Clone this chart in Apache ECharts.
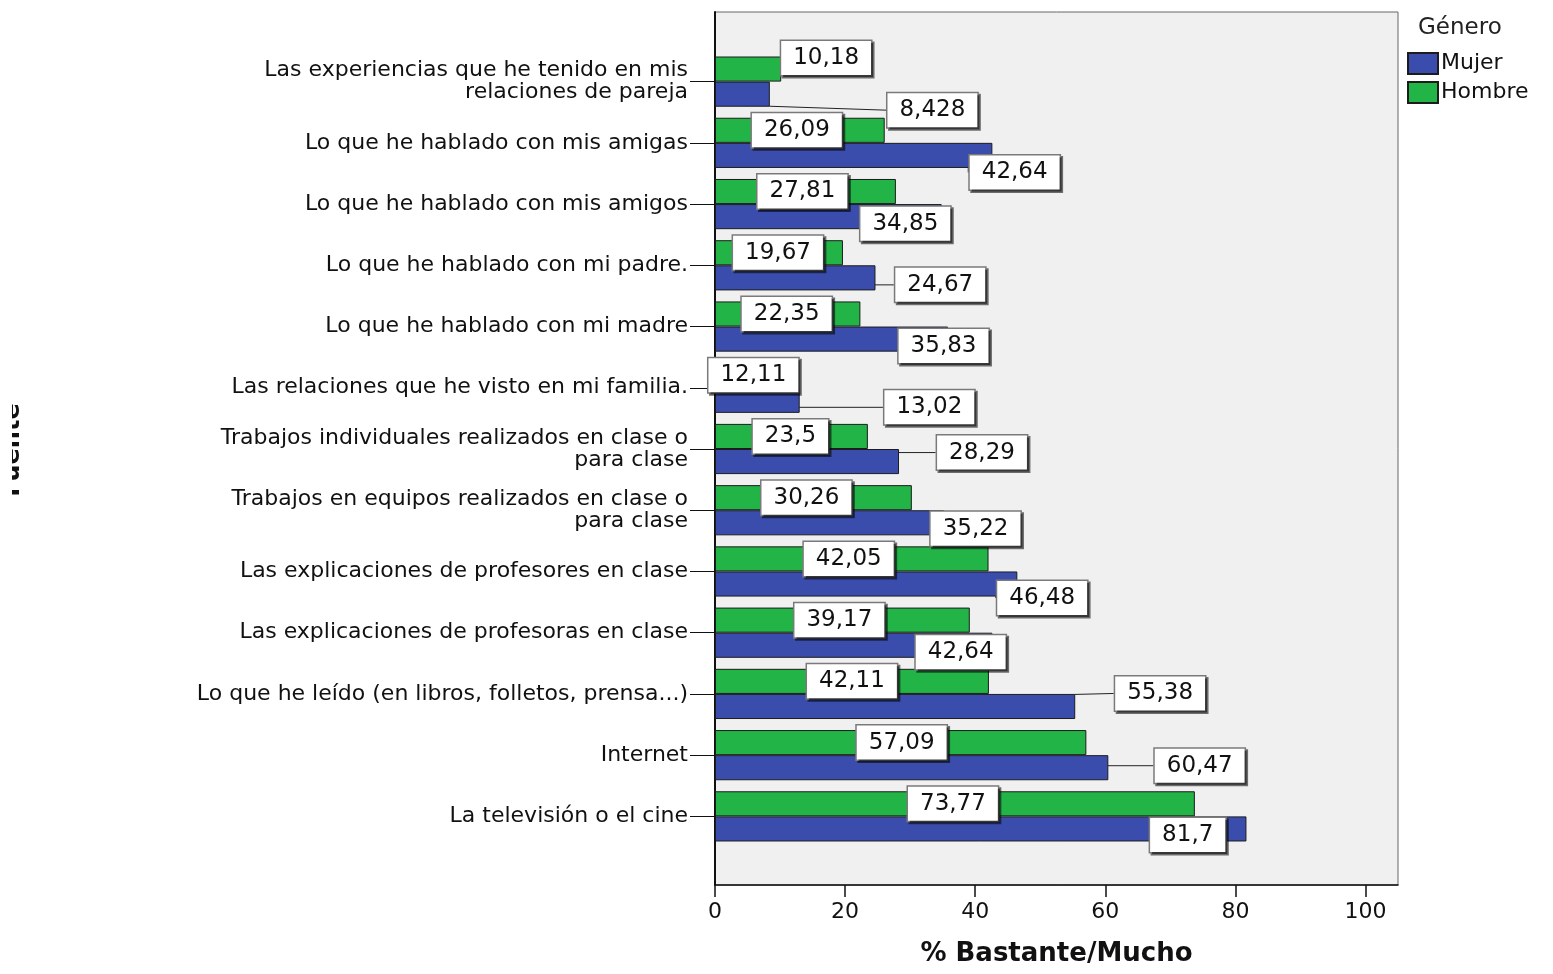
<!DOCTYPE html>
<html>
<head>
<meta charset="utf-8">
<script src="https://cdn.jsdelivr.net/npm/echarts@6/dist/echarts.min.js"></script>
<style>
  html, body { margin: 0; padding: 0; background: #fff; }
  #main { width: 1553px; height: 974px; }
</style>
</head>
<body>
<div id="main"></div>
<script>
// fuentes de información, de arriba a abajo
var categories = [
    'Las experiencias que he tenido en mis\nrelaciones de pareja',
    'Lo que he hablado con mis amigas',
    'Lo que he hablado con mis amigos',
    'Lo que he hablado con mi padre.',
    'Lo que he hablado con mi madre',
    'Las relaciones que he visto en mi familia.',
    'Trabajos individuales realizados en clase o\npara clase',
    'Trabajos en equipos realizados en clase o\npara clase',
    'Las explicaciones de profesores en clase',
    'Las explicaciones de profesoras en clase',
    'Lo que he leído (en libros, folletos, prensa...)',
    'Internet',
    'La televisión o el cine'
];
var hombreValues = [10.18, 26.09, 27.81, 19.67, 22.35, 12.11, 23.5, 30.26, 42.05, 39.17, 42.11, 57.09, 73.77];
var mujerValues = [8.428, 42.64, 34.85, 24.67, 35.83, 13.02, 28.29, 35.22, 46.48, 42.64, 55.38, 60.47, 81.7];
var xTicks = [0, 20, 40, 60, 80, 100];

// desplazamiento de las etiquetas (estilo SPSS), en px
var hombreLabelShift = [[78, -11], [-3, 0], [-3, 0], [-1, 0], [-1, 0], [-1, 0], [-1, 0], [-7, 0], [-3, 0], [-3, 0], [0, 0], [1, 0], [-2, 0]];
var mujerLabelShift = [[190, 16], [161, 17], [77, 7], [145, 7], [112, 7], [172, 7], [175, -9], [146, 6], [176, 14], [107, 7], [265, -13], [288, -2], [207, 6]];

var FONT = 'DejaVu Sans';
var BLUE = '#3a4dad';
var GREEN = '#22b447';

var myChart = echarts.init(document.getElementById('main'));

var labelStyle = {
    show: true,
    position: 'inside',
    color: '#111',
    fontFamily: FONT,
    fontSize: 23,
    backgroundColor: '#fff',
    borderColor: '#7a7a7a',
    borderWidth: 1.5,
    padding: [6, 12, 5, 12],
    shadowColor: 'rgba(0,0,0,0.55)',
    shadowOffsetX: 2,
    shadowOffsetY: 2,
    formatter: function (p) { return String(p.value).replace('.', ','); }
};

myChart.setOption({
    animation: false,
    title: {
        text: 'Género',
        left: 1413,
        top: 12,
        textStyle: {fontFamily: FONT, fontSize: 23, fontWeight: 'normal', color: '#222'}
    },
    legend: {
        data: ['Mujer', 'Hombre'],
        orient: 'vertical',
        left: 1402,
        top: 47,
        icon: 'rect',
        itemWidth: 30,
        itemHeight: 21,
        itemGap: 6,
        textStyle: {fontFamily: FONT, fontSize: 22, color: '#111', padding: [0, 0, 0, -2]}
    },
    graphic: [{
        type: 'text',
        x: 25,
        y: 450,
        rotation: Math.PI / 2,
        style: {
            text: 'Fuente',
            font: 'bold 24px ' + FONT,
            fill: '#111',
            align: 'center',
            verticalAlign: 'bottom'
        }
    }, {
        // el título del eje aparece recortado en el original
        type: 'rect',
        shape: {x: 0, y: 300, width: 12, height: 300},
        style: {fill: '#fff'},
        z: 100
    }],
    grid: [
        {left: 715, right: 155, top: 12, bottom: 89, show: true,
         backgroundColor: '#f0f0f0', borderColor: '#666', borderWidth: 1},
        {left: 715, right: 155, top: 51, bottom: 127}
    ],
    xAxis: [{
        type: 'value',
        gridIndex: 0,
        min: 0,
        max: 105,
        interval: 20,
        splitLine: {show: false},
        axisLine: {show: true, lineStyle: {color: '#111', width: 1.5}},
        axisTick: {show: true, length: 12, lineStyle: {color: '#111', width: 1.5}},
        axisLabel: {
            margin: 16,
            fontFamily: FONT,
            fontSize: 22,
            color: '#111',
            showMaxLabel: false,
            formatter: function (v) { return xTicks.indexOf(v) >= 0 ? String(v) : ''; }
        },
        name: '% Bastante/Mucho',
        nameLocation: 'middle',
        nameGap: 56,
        nameTextStyle: {fontFamily: FONT, fontSize: 26, fontWeight: 'bold', color: '#111'}
    }, {
        type: 'value',
        gridIndex: 1,
        min: 0,
        max: 105,
        show: false
    }],
    yAxis: [{
        type: 'value',
        gridIndex: 0,
        axisLine: {show: true, lineStyle: {color: '#111', width: 2}},
        axisTick: {show: false},
        axisLabel: {show: false},
        splitLine: {show: false}
    }, {
        type: 'category',
        gridIndex: 1,
        inverse: true,
        data: categories,
        axisLine: {show: false},
        axisTick: {show: true, alignWithLabel: true, length: 25, lineStyle: {color: '#111'}},
        axisLabel: {
            margin: 27,
            fontFamily: FONT,
            fontSize: 22,
            lineHeight: 22,
            color: '#111',
            align: 'right'
        }
    }],
    series: [{
        name: 'Hombre',
        type: 'bar',
        xAxisIndex: 1,
        yAxisIndex: 1,
        data: hombreValues,
        barGap: '0%',
        barCategoryGap: '18%',
        itemStyle: {color: GREEN, borderColor: '#1c1c1c', borderWidth: 1},
        label: labelStyle,
        labelLayout: function (p) {
            var s = hombreLabelShift[p.dataIndex];
            return {dx: s[0], dy: s[1]};
        }
    }, {
        name: 'Mujer',
        type: 'bar',
        xAxisIndex: 1,
        yAxisIndex: 1,
        data: mujerValues,
        barGap: '0%',
        barCategoryGap: '18%',
        itemStyle: {color: BLUE, borderColor: '#1c1c1c', borderWidth: 1},
        label: labelStyle,
        labelLine: {show: true, lineStyle: {color: '#222', width: 1}},
        labelLayout: function (p) {
            var s = mujerLabelShift[p.dataIndex];
            return {dx: s[0], dy: s[1]};
        }
    }]
});
</script>
</body>
</html>
